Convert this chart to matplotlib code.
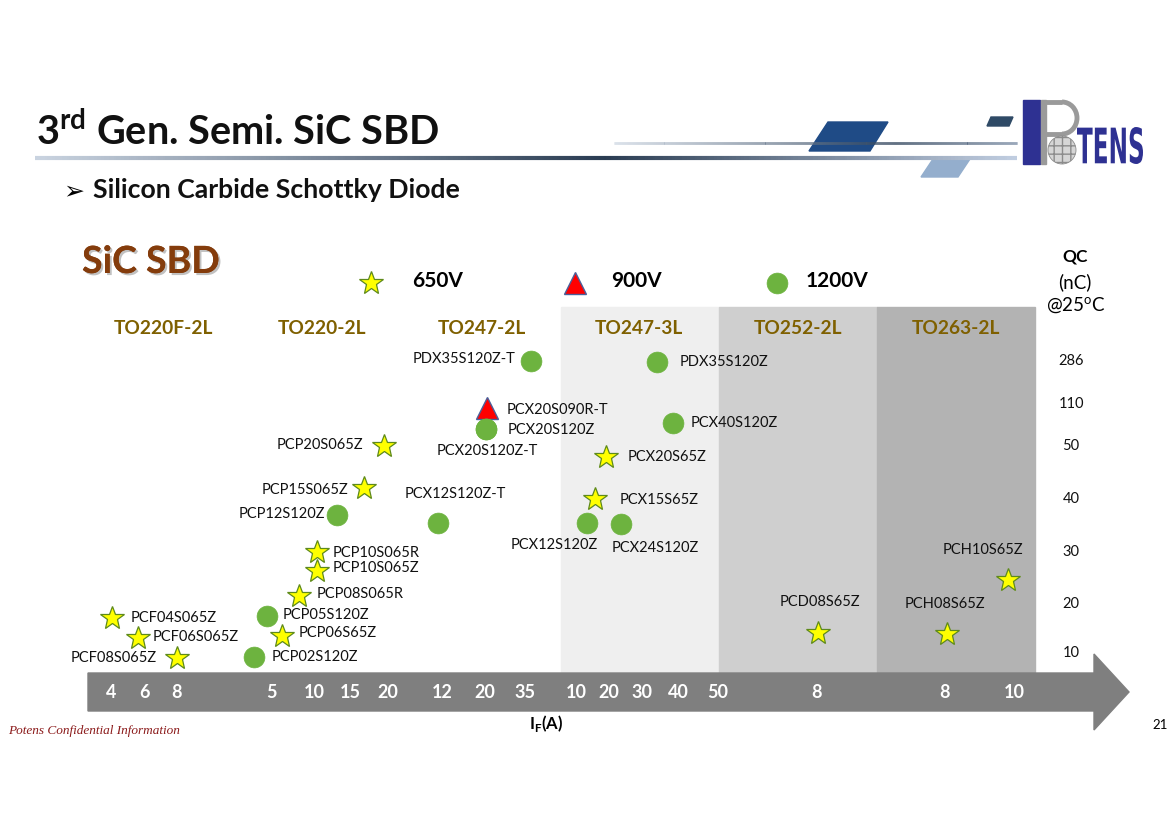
import numpy as np
import matplotlib
matplotlib.use("Agg")
import matplotlib.pyplot as plt
from matplotlib.patches import Polygon, Rectangle, Circle, Arc, PathPatch
from matplotlib.collections import LineCollection
from matplotlib.colors import LinearSegmentedColormap
from matplotlib.textpath import TextPath
from matplotlib.font_manager import FontProperties
from matplotlib.transforms import Affine2D
import matplotlib.patheffects as pe

plt.rcParams['font.family'] = ['Lato', 'DejaVu Sans']
plt.rcParams['mathtext.fontset'] = 'custom'
plt.rcParams['mathtext.rm'] = 'Lato'
plt.rcParams['mathtext.bf'] = 'Lato:bold'

W, H = 1170, 827

# ---------------- data ----------------
parts = ["PCF04S065Z", "PCF06S065Z", "PCF08S065Z",
         "PCP02S120Z", "PCP05S120Z", "PCP06S65Z", "PCP08S065R", "PCP10S065Z",
         "PCP10S065R", "PCP12S120Z", "PCP15S065Z", "PCP20S065Z",
         "PCX12S120Z-T", "PCX20S090R-T", "PCX20S120Z", "PCX20S120Z-T", "PDX35S120Z-T",
         "PCX12S120Z", "PCX15S65Z", "PCX20S65Z", "PCX24S120Z", "PDX35S120Z", "PCX40S120Z",
         "PCD08S65Z", "PCH08S65Z", "PCH10S65Z"]
# position along the package / I_F arrow (slide pixels)
part_x = [112, 138, 177,
          254, 267, 282, 299, 317,
          317, 337, 364, 384,
          438, 487, 486, 486, 531,
          587, 595, 606, 621, 657, 673,
          818, 947, 1008]
# QC (nC) @25C
part_qc = [17.1, 13.1, 9.0,
           9.2, 17.6, 13.5, 21.5, 26.3,
           30, 37, 42, 50,
           35.5, 105, 74, 74, 286,
           35.5, 40, 48, 35.3, 280, 83,
           14.1, 13.9, 24.6]
part_volt = ["650V", "650V", "650V",
             "1200V", "1200V", "650V", "650V", "650V",
             "650V", "1200V", "650V", "650V",
             "1200V", "900V", "1200V", "1200V", "1200V",
             "1200V", "650V", "650V", "1200V", "1200V", "1200V",
             "650V", "650V", "650V"]

qc_ticks = [10, 20, 30, 40, 50, 110, 286]
packages = ["TO220F-2L", "TO220-2L", "TO247-2L", "TO247-3L", "TO252-2L", "TO263-2L"]
if_labels = ["4", "6", "8", "5", "10", "15", "20", "12", "20", "35",
             "10", "20", "30", "40", "50", "8", "8", "10"]
volt_labels = ["650V", "900V", "1200V"]

# ---------------- layout / style ----------------
qc_tick_px = [653, 604, 552, 499, 446, 404, 361]
if_px = [111, 145, 176, 271, 314, 350, 388, 442, 485, 525,
         576, 609, 642, 678, 718, 817, 945, 1014]
pkg_px = [163, 322, 482, 639, 798, 956]
bands = [(561, 719, '#efefef'), (719, 877, '#cfcfcf'), (877, 1035, '#b3b3b3')]
legend_px = [(371, 412), (575, 611), (777, 806)]
styles = {
    "650V": dict(marker='*', ms=18, mfc='#ffff00', mec='#5e8a1c', mew=0.9),
    "900V": dict(marker='^', ms=16, mfc='#ff0000', mec='#4a5f9a', mew=1.0),
    "1200V": dict(marker='o', ms=15, mfc='#6db33f', mec='#6db33f', mew=0.5),
}
# label offsets (px, dy up) and alignment
label_off = [(19, 0, 'left'), (15, 1, 'left'), (-20, 0, 'right'),
             (18, 0, 'left'), (16, 1, 'left'), (17, 3, 'left'), (18, 2, 'left'), (16, 3, 'left'),
             (16, -1, 'left'), (-12, 1, 'right'), (-16, -2, 'right'), (-21, 1, 'right'),
             (17, 29, 'center'), (20, -2, 'left'), (22, -1, 'left'), (1, -22, 'center'), (-15, 2, 'right'),
             (-33, -22, 'center'), (25, -1, 'left'), (22, 0, 'left'), (34, -24, 'center'),
             (23, 0, 'left'), (18, 0, 'left'),
             (2, 31, 'center'), (-2, 30, 'center'), (-25, 30, 'center')]

fig = plt.figure(figsize=(11.7, 8.27), dpi=100)

# ---------- slide background axes (pixel coordinates) ----------
bg = fig.add_axes([0, 0, 1, 1])
bg.set_xlim(0, W)
bg.set_ylim(H, 0)
bg.axis('off')


def grad_line(ax, x0, x1, y, stops, lw, z=3):
    xs = np.linspace(x0, x1, 400)
    segs = [[(xs[i], y), (xs[i + 1], y)] for i in range(len(xs) - 1)]
    cmap = LinearSegmentedColormap.from_list('g', stops)
    lc = LineCollection(segs, colors=cmap(np.linspace(0, 1, len(segs))),
                        linewidths=lw, zorder=z, capstyle='butt')
    ax.add_collection(lc)


# header decoration
bg.add_patch(Polygon([(809, 151), (828, 122), (888, 122), (870, 151)], color='#1f4b86', zorder=2))
bg.add_patch(Polygon([(921, 177), (933, 159), (970, 159), (958, 177)], color='#94aecd', zorder=2))
bg.add_patch(Polygon([(987, 126), (991, 117), (1013, 117), (1009, 126)], color='#2f4a66', zorder=2))
grad_line(bg, 35, 1017, 158, [(0, '#c9d3e0'), (0.58, '#2a3c52'), (1, '#c0cde0')], 3.0)
grad_line(bg, 614, 1017, 143, [(0, '#d0d9e4'), (0.7, '#2f435b'), (1, '#7a8ca4')], 2.0)

# logo
bg.add_patch(Rectangle((1023, 100), 17, 64, color='#2e3192', zorder=4))
bg.add_patch(Rectangle((1041, 100), 5, 64, color='#9a9a9a', zorder=4))
bg.plot([1043, 1062], [102, 102], color='#9a9a9a', lw=3.5, zorder=4, solid_capstyle='butt')
bg.plot([1046, 1062], [134, 134], color='#9a9a9a', lw=3.5, zorder=4, solid_capstyle='butt')
bg.add_patch(Arc((1062, 118), 30, 32, theta1=-90, theta2=90, color='#9a9a9a', lw=3.5, zorder=4))
bg.add_patch(Circle((1062, 150), 14, facecolor='#d6d6d6', edgecolor='#8c8c8c',
                    hatch='++', lw=0.6, zorder=5))
tp = TextPath((0, 0), "TENS", size=40, prop=FontProperties(family='DejaVu Sans', weight='bold'))
ext = tp.get_extents()
sx = (1143 - 1077) / ext.width
sy = (164 - 127) / ext.height
tr = Affine2D().translate(-ext.x0, -ext.y0).scale(sx, -sy).translate(1077, 164)
bg.add_patch(PathPatch(tr.transform_path(tp), color='#2e3192', lw=0, zorder=5))

# titles
bg.text(36, 145, r'3$^{\mathregular{rd}}$ Gen. Semi. SiC SBD', fontsize=28.5,
        fontweight='bold', va='baseline', color='#111111')
bg.text(63, 191, '\u27a2', family='DejaVu Sans', fontsize=18, va='center')
bg.text(93, 190, 'Silicon Carbide Schottky Diode', fontsize=19.2,
        fontweight='bold', va='center', color='#111111')
bg.text(82, 262, 'SiC SBD', fontsize=27, fontweight='bold', color='#843c0c', va='center',
        path_effects=[pe.withSimplePatchShadow(offset=(1.5, -1.5), shadow_rgbFace='#777777', alpha=0.45),
                      pe.Normal()])

# legend
for (mx, tx), lab in zip(legend_px, volt_labels):
    bg.plot([mx], [283], ls='none', **styles[lab])
    bg.text(tx, 281, lab, fontsize=15, fontweight='bold', va='center')

# package bands and labels
for x0, x1, c in bands:
    bg.add_patch(Rectangle((x0, 307), x1 - x0, 366, color=c, zorder=0))
for x, p in zip(pkg_px, packages):
    bg.text(x, 328, p, fontsize=13.8, fontweight='bold', color='#7f6000', ha='center', va='center')

# QC header
bg.text(1075, 257, 'QC', fontsize=12.5, fontweight='bold', ha='center', va='center')
bg.text(1075, 282, '(nC)', fontsize=13.5, ha='center', va='center')
bg.text(1076, 306, r'@25$^{\mathregular{o}}$C', fontsize=13.5, ha='center', va='center')

# arrow axis
bg.add_patch(Polygon([(88, 673), (1094, 673), (1094, 654), (1129, 692),
                      (1094, 730), (1094, 711), (88, 711)], color='#7f7f7f', zorder=1))
for x, lab in zip(if_px, if_labels):
    bg.text(x, 692, lab, color='white', fontsize=13, fontweight='bold',
            ha='center', va='center', zorder=2)
bg.text(546, 724, r'I$_{\mathregular{F}}$(A)', fontsize=12, fontweight='bold', ha='center', va='center')
bg.text(1160, 725, '21', fontsize=9.5, ha='center', va='center')
bg.text(8, 731, 'Potens Confidential Information', family='Liberation Serif', style='italic',
        color='#8b1a1a', fontsize=9.5, va='center')

# ---------- chart axes: x along the arrow, y = QC on the slide's piecewise scale ----------
QA = np.array(qc_ticks, float)
PA = 653.0 - np.array(qc_tick_px, float)


def _pw(v, xs, ys):
    v = np.asarray(v, float)
    out = np.interp(v, xs, ys)
    s0 = (ys[1] - ys[0]) / (xs[1] - xs[0])
    s1 = (ys[-1] - ys[-2]) / (xs[-1] - xs[-2])
    out = np.where(v < xs[0], ys[0] + (v - xs[0]) * s0, out)
    out = np.where(v > xs[-1], ys[-1] + (v - xs[-1]) * s1, out)
    return out


ax = fig.add_axes([0, (H - 653) / H, 1, (653 - 361) / H])
ax.set_xlim(0, W)
ax.set_yscale('function', functions=(lambda q: _pw(q, QA, PA), lambda p: _pw(p, PA, QA)))
ax.set_ylim(10, 286)
ax.axis('off')

for v in volt_labels:
    xs = [x for x, vv in zip(part_x, part_volt) if vv == v]
    qs = [q for q, vv in zip(part_qc, part_volt) if vv == v]
    ax.plot(xs, qs, ls='none', clip_on=False, zorder=3, **styles[v])

for name, x, q, (dx, dy, ha) in zip(parts, part_x, part_qc, label_off):
    ax.annotate(name, (x, q), xytext=(dx, dy), textcoords='offset pixels',
                ha=ha, va='center', fontsize=10.5, color='#111111', annotation_clip=False)

for q in qc_ticks:
    ax.text(1071, q, str(q), ha='center', va='center', fontsize=10.5, color='#111111')

fig.savefig('out.png', dpi=100)
